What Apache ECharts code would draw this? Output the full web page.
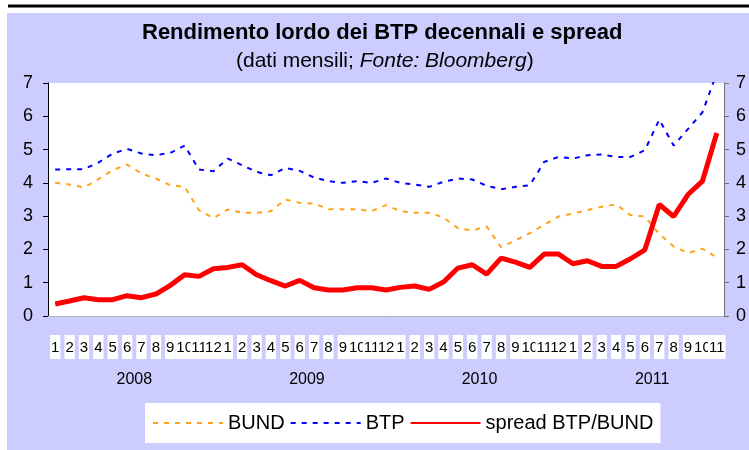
<!DOCTYPE html>
<html>
<head>
<meta charset="utf-8">
<script src="https://cdn.jsdelivr.net/npm/echarts@6/dist/echarts.min.js"></script>
<style>
    html, body { margin: 0; padding: 0; background: #fff; }
    #chart { width: 749px; height: 450px; }
</style>
</head>
<body>
<div id="chart"></div>
<script>
// monthly data, Jan 2008 - Nov 2011
const months = [
    "1", "2", "3", "4", "5", "6", "7", "8", "9", "10", "11", "12",
    "1", "2", "3", "4", "5", "6", "7", "8", "9", "10", "11", "12",
    "1", "2", "3", "4", "5", "6", "7", "8", "9", "10", "11", "12",
    "1", "2", "3", "4", "5", "6", "7", "8", "9", "10", "11",
];
const years = ["2008", "2009", "2010", "2011"];

const bund = [
    4.0, 3.95, 3.86, 4.11, 4.38, 4.55, 4.28, 4.13, 3.93, 3.88, 3.18, 2.94,
    3.2, 3.1, 3.1, 3.15, 3.5, 3.4, 3.38, 3.21, 3.21, 3.21, 3.15, 3.33,
    3.15, 3.1, 3.1, 2.96, 2.64, 2.57, 2.69, 2.07, 2.27, 2.49, 2.74, 2.99,
    3.08, 3.18, 3.28, 3.35, 3.03, 2.99, 2.46, 2.09, 1.89, 2.02, 1.76,
];
const btp = [
    4.4, 4.41, 4.41, 4.61, 4.88, 5.02, 4.88, 4.83, 4.9, 5.12, 4.4, 4.35,
    4.73, 4.53, 4.33, 4.23, 4.45, 4.36, 4.16, 4.05, 4.0, 4.05, 4.0, 4.13,
    4.0, 3.95, 3.88, 4.03, 4.13, 4.1, 3.91, 3.81, 3.88, 3.93, 4.63, 4.78,
    4.73, 4.83, 4.85, 4.78, 4.78, 4.98, 5.9, 5.12, 5.62, 6.12, 7.3,
];
const spread = [
    0.36, 0.45, 0.55, 0.49, 0.49, 0.61, 0.55, 0.66, 0.92, 1.24, 1.19, 1.42,
    1.46, 1.54, 1.24, 1.06, 0.9, 1.07, 0.85, 0.78, 0.78, 0.85, 0.85, 0.78,
    0.86, 0.9, 0.8, 1.02, 1.44, 1.54, 1.26, 1.74, 1.62, 1.46, 1.86, 1.86,
    1.57, 1.66, 1.49, 1.49, 1.72, 1.99, 3.35, 2.99, 3.65, 4.05, 5.5,
];

const yearOfMonth = months.map((m, i) => years[Math.floor(i / 12)]);

const sans = "'Liberation Sans', Arial, sans-serif";
const grey = "#b4b4b4";

const chart = echarts.init(document.getElementById("chart"));
chart.setOption({
    backgroundColor: "#ccccff",
    animation: false,
    graphic: [
        { type: "rect", shape: { x: 0, y: 0, width: 749, height: 13 }, style: { fill: "#fff" } },
        { type: "rect", shape: { x: 0, y: 0, width: 7, height: 450 }, style: { fill: "#fff" } },
        { type: "line", shape: { x1: 8, y1: 6, x2: 749, y2: 6 }, style: { stroke: "#000", lineWidth: 3 } },
    ],
    title: [
        {
            text: "Rendimento lordo dei BTP decennali e spread",
            left: 142,
            top: 22,
            padding: 0,
            textStyle: { fontFamily: sans, fontSize: 22, fontWeight: "bold", color: "#000" },
        },
        {
            text: "(dati mensili; {i|Fonte: Bloomberg})",
            left: 236,
            top: 51,
            padding: 0,
            textStyle: {
                fontFamily: sans, fontSize: 21, fontWeight: "normal", color: "#000",
                rich: { i: { fontFamily: sans, fontSize: 21, fontStyle: "italic", color: "#000" } },
            },
        },
    ],
    legend: {
        left: 145,
        top: 403,
        padding: [10, 7, 10, 7],
        backgroundColor: "#fff",
        itemWidth: 70,
        itemHeight: 14,
        itemGap: 5,
        itemStyle: { opacity: 0 },
        textStyle: { fontFamily: sans, fontSize: 20, color: "#000" },
        data: ["BUND", "BTP", "spread BTP/BUND"],
    },
    grid: {
        left: 48, right: 22, top: 83, bottom: 134,
        show: true, backgroundColor: "#fff", borderWidth: 0,
    },
    xAxis: [
        {
            type: "category",
            data: months,
            boundaryGap: true,
            axisLine: { lineStyle: { color: grey } },
            axisTick: { interval: 0, length: 42, lineStyle: { color: grey } },
            axisLabel: {
                interval: 0, margin: 19, color: "#000",
                fontFamily: sans, fontSize: 15,
                backgroundColor: "#fff", padding: [5, 1, 4, 1],
            },
        },
        {
            type: "category",
            data: yearOfMonth,
            position: "bottom",
            boundaryGap: true,
            axisLine: { show: false },
            axisTick: {
                interval: (i) => i % 12 === 0,
                length: 79,
                lineStyle: { color: grey },
            },
            axisLabel: {
                interval: (i) => i % 12 === 5,
                margin: 56, color: "#000",
                fontFamily: sans, fontSize: 16,
                padding: [0, 0, 0, 14.45],
            },
        },
        {
            type: "category",
            data: months,
            position: "bottom",
            boundaryGap: true,
            axisLine: { show: false },
            axisTick: { interval: 0, inside: true, length: 4, lineStyle: { color: grey } },
            axisLabel: { show: false },
        },
    ],
    yAxis: [
        {
            type: "value", min: 0, max: 7, interval: 1,
            splitLine: { show: false },
            axisLine: { show: true, lineStyle: { color: "#000" } },
            axisTick: { show: true, length: 5, lineStyle: { color: "#000" } },
            axisLabel: { margin: 15, color: "#000", fontFamily: sans, fontSize: 18 },
        },
        {
            type: "value", min: 0, max: 7, interval: 1, position: "right",
            splitLine: { show: false },
            axisLine: { show: true, lineStyle: { color: "#707070" } },
            axisTick: { show: true, length: 5, lineStyle: { color: "#707070" } },
            axisLabel: { margin: 12, color: "#000", fontFamily: sans, fontSize: 18 },
        },
    ],
    series: [
        {
            name: "BUND", type: "line", data: bund, symbol: "none",
            lineStyle: { color: "#ffa31a", width: 2, type: [5, 6] },
            itemStyle: { color: "#ffa31a" },
        },
        {
            name: "BTP", type: "line", data: btp, symbol: "none",
            lineStyle: { color: "#0000ff", width: 2, type: [5, 6] },
            itemStyle: { color: "#0000ff" },
        },
        {
            name: "spread BTP/BUND", type: "line", data: spread, symbol: "none",
            lineStyle: { color: "#ff0000", width: 5 },
            itemStyle: { color: "#ff0000" },
        },
    ],
});
</script>
</body>
</html>
